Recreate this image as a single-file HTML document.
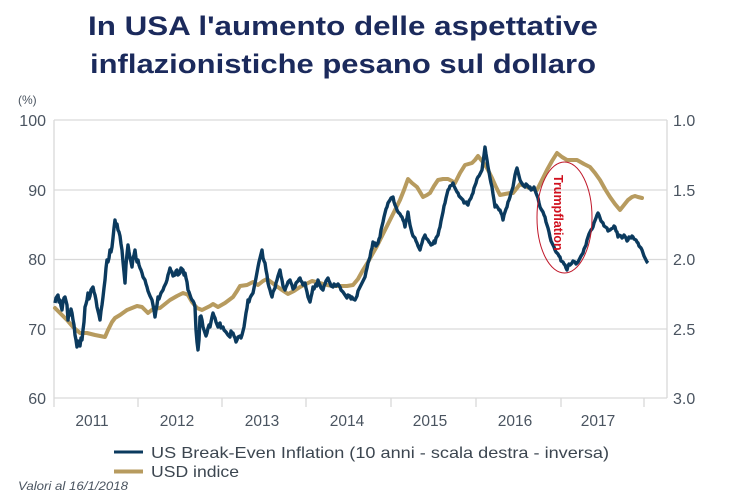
<!DOCTYPE html>
<html><head><meta charset="utf-8"><style>
html,body{margin:0;padding:0;background:#fff;}
svg{display:block;}
text{font-family:"Liberation Sans",sans-serif;}
</style></head><body>
<svg width="741" height="500" viewBox="0 0 741 500" xmlns="http://www.w3.org/2000/svg" font-family="Liberation Sans, sans-serif">
<rect width="741" height="500" fill="#fff"/>
<text x="343" y="35" text-anchor="middle" font-size="27" font-weight="bold" fill="#1b2a5c" textLength="510" lengthAdjust="spacingAndGlyphs">In USA l'aumento delle aspettative</text>
<text x="343" y="73" text-anchor="middle" font-size="27" font-weight="bold" fill="#1b2a5c" textLength="506" lengthAdjust="spacingAndGlyphs">inflazionistiche pesano sul dollaro</text>
<text x="18" y="104" font-size="12" fill="#4a5460">(%)</text>
<g stroke="#d9d9d9" stroke-width="1.3" fill="none">
<line x1="54" y1="120" x2="667" y2="120"/>
<line x1="54" y1="190" x2="667" y2="190"/>
<line x1="54" y1="259.5" x2="667" y2="259.5"/>
<line x1="54" y1="329" x2="667" y2="329"/>
<line x1="54" y1="398" x2="667" y2="398"/>
<line x1="54" y1="120" x2="54" y2="407"/>
<line x1="667" y1="120" x2="667" y2="398"/>
<line x1="138" y1="398" x2="138" y2="407"/>
<line x1="222" y1="398" x2="222" y2="407"/>
<line x1="306" y1="398" x2="306" y2="407"/>
<line x1="391" y1="398" x2="391" y2="407"/>
<line x1="476" y1="398" x2="476" y2="407"/>
<line x1="561" y1="398" x2="561" y2="407"/>
<line x1="644" y1="398" x2="644" y2="407"/>
</g>
<g font-size="16" fill="#4a5460" text-anchor="end">
<text x="46" y="126">100</text>
<text x="46" y="196">90</text>
<text x="46" y="265">80</text>
<text x="46" y="335">70</text>
<text x="46" y="404">60</text>
</g>
<g font-size="16" fill="#4a5460">
<text x="673" y="126">1.0</text>
<text x="673" y="196">1.5</text>
<text x="673" y="265">2.0</text>
<text x="673" y="335">2.5</text>
<text x="673" y="404">3.0</text>
</g>
<g font-size="15.5" fill="#4a5460" text-anchor="middle">
<text x="92" y="426">2011</text>
<text x="177" y="426">2012</text>
<text x="262" y="426">2013</text>
<text x="347" y="426">2014</text>
<text x="430" y="426">2015</text>
<text x="515" y="426">2016</text>
<text x="598" y="426">2017</text>
</g>
<polyline fill="none" stroke="#b79b5f" stroke-width="4" stroke-linejoin="round" stroke-linecap="round" points="55,308 57,310 62,315 67,320 73,327 80,333 87,333 95,335 105,337 108,330 112,322 115,318 120,315 127,310 132,308 137,306 142,307 145,310 148,313 153,309 160,308 165,304 170,300 177,296 183,293 186,294 188,295 192,302 197,308 202,310 206,308 210,306 213,304 218,307 225,303 233,297 237,291 240,286 247,285 253,282 258,285 263,281 267,279 271,282 275,285 282,290 288,294 294,291 300,287 306,284 312,281 316,282 320,283 327,285 333,286 340,286 347,286 353,285 358,279 363,270 368,262 373,253 377,246 380,240 385,230 390,220 395,210 400,200 404,190 408,179 412,183 417,187 420,192 423,197 427,195 430,193 434,186 438,180 443,179 448,179 452,181 455,183 460,173 465,165 472,163 475,160 478,156 482,161 487,168 492,178 496,187 500,195 505,194 510,193 513,193 517,188 520,184 524,186 527,187 532,189 537,190 542,180 547,170 552,161 557,153 562,157 567,160 572,160 577,160 584,164 590,167 595,173 600,180 605,189 610,197 615,204 620,210 624,205 628,200 632,197 635,196 638,197 642,198"/>
<polyline fill="none" stroke="#0b3a5e" stroke-width="3.4" stroke-linejoin="round" points="55,303 56,298 58,295 59,302 60,300 61,306 62,310 63,302 64,298 65,297 66,301 67,305 68,320 69,312 70,315 71,309 72,313 73,320 74,325 75,335 76,340 77,347 78,341 79,343 80,346 81,338 82,340 83,330 84,322 85,307 86,304 87,300 88,293 89,299 90,296 91,290 93,287 94,292 95,295 96,300 97,307 98,311 99,315 100,320 101,311 102,305 103,297 104,288 105,280 106,268 107,260 108,262 109,258 110,250 111,252 112,247 113,238 114,228 115,220 116,226 117,224 118,230 119,232 120,236 121,244 122,250 123,262 124,272 125,283 126,265 127,254 128,245 129,252 130,258 131,262 132,267 133,258 134,255 135,250 136,258 137,262 138,260 139,265 140,268 141,270 142,273 143,277 145,280 146,284 147,287 148,291 150,296 151,298 152,300 153,305 154,310 155,317 156,310 157,305 158,297 159,299 160,296 161,293 163,290 164,287 165,285 166,283 167,280 168,275 169,272 170,268 171,271 172,272 173,276 175,275 176,271 177,270 178,275 180,273 181,268 183,270 184,275 185,273 186,278 187,282 188,290 189,292 190,295 191,298 192,300 193,301 194,303 195,307 196,330 197,342 198,350 199,340 200,317 201,316 202,320 203,327 204,330 205,333 206,336 207,333 208,328 209,325 210,327 211,322 212,317 213,313 214,316 215,318 216,322 218,327 219,324 220,323 221,328 223,327 224,330 226,332 228,335 230,337 231,331 232,333 233,333 234,336 235,338 236,342 237,340 238,337 240,336 241,338 242,335 243,331 244,327 245,320 246,313 247,308 248,300 249,302 250,298 251,296 253,293 254,288 255,283 256,278 258,267 259,262 260,258 261,254 262,250 263,258 264,261 265,263 266,270 267,275 268,283 269,287 270,290 271,294 272,297 273,292 275,288 276,283 277,280 278,276 279,273 280,270 281,276 282,280 283,286 285,290 286,287 287,285 288,282 290,280 291,283 292,285 293,289 295,287 296,283 298,281 299,279 300,278 301,281 302,282 303,285 305,283 306,288 307,292 308,297 310,302 311,297 312,293 313,287 314,289 316,284 317,286 318,280 319,283 320,285 321,288 323,290 324,286 325,284 326,281 328,278 329,281 330,283 331,286 333,287 334,284 336,286 338,284 340,287 341,290 343,292 345,295 347,298 348,295 350,296 351,299 352,297 353,299 355,300 356,298 357,296 358,291 360,287 361,285 362,283 363,281 365,277 366,272 367,268 368,263 370,257 371,251 372,248 373,242 374,245 375,243 376,246 378,243 379,239 380,237 381,230 383,222 384,217 385,213 386,209 387,207 388,203 390,200 391,198 393,197 394,202 395,205 396,207 397,210 398,212 400,214 401,216 402,217 403,220 404,222 405,227 406,221 407,218 408,212 409,219 410,225 411,229 412,233 413,236 415,238 416,241 417,243 418,246 420,250 421,246 422,243 423,239 425,235 426,238 428,240 429,242 430,243 431,245 433,244 434,241 435,243 436,238 438,235 439,230 440,227 441,221 443,212 444,206 445,203 446,198 447,194 448,190 449,189 450,186 452,185 453,183 454,186 456,190 457,192 458,193 459,196 461,198 462,199 463,200 464,203 466,202 467,204 468,205 469,201 471,198 472,195 473,193 474,188 476,183 477,179 478,177 479,176 480,174 481,172 482,170 483,162 484,155 485,147 486,154 487,160 488,167 489,172 490,178 491,183 492,187 493,194 494,200 495,207 496,205 498,208 499,210 500,210 501,213 502,215 503,220 504,215 505,212 506,209 507,207 508,202 509,200 510,197 511,193 512,190 513,187 514,181 515,175 516,171 517,168 518,172 519,176 520,180 521,182 523,185 524,186 525,187 526,184 528,186 529,188 530,187 531,190 533,189 534,187 535,190 536,193 538,198 539,203 540,207 541,209 543,212 544,215 545,217 546,222 548,228 549,232 550,237 551,241 553,245 554,247 555,250 556,252 558,254 559,256 560,257 561,261 563,262 564,264 565,265 566,268 567,270 568,266 569,264 570,265 572,263 573,261 575,262 576,264 578,262 579,260 580,258 581,256 583,253 584,249 586,245 587,240 588,237 589,234 591,230 592,229 593,227 594,223 596,218 597,215 598,213 599,215 600,218 601,221 603,223 604,226 607,228 608,231 610,230 611,229 613,228 614,226 615,227 616,231 617,232 618,237 619,235 621,236 622,238 623,237 624,235 626,238 627,241 628,240 629,237 631,238 632,236 633,237 634,239 636,240 637,242 638,243 639,246 641,248 642,250 643,253 644,256 646,260 647,262 648,263"/>
<ellipse cx="564.5" cy="217.5" rx="27.5" ry="55.5" fill="none" stroke="#c0182a" stroke-width="1"/>
<text transform="translate(554,175) rotate(90)" style="font-family:'Liberation Sans',Arial,sans-serif;font-weight:bold;font-size:12.5px" fill="#d0101e">Trumpflation</text>
<line x1="114" y1="452" x2="143" y2="452" stroke="#0b3a5e" stroke-width="3"/>
<line x1="114" y1="471.5" x2="143" y2="471.5" stroke="#b79b5f" stroke-width="4"/>
<text x="151" y="458" font-size="16" fill="#3c4650" textLength="458" lengthAdjust="spacingAndGlyphs">US Break-Even Inflation (10 anni - scala destra - inversa)</text>
<text x="151" y="477" font-size="16" fill="#3c4650" textLength="88" lengthAdjust="spacingAndGlyphs">USD indice</text>
<text x="18" y="490" font-size="11.5" font-style="italic" fill="#4a5460" textLength="110" lengthAdjust="spacingAndGlyphs">Valori al 16/1/2018</text>
</svg>
</body></html>
